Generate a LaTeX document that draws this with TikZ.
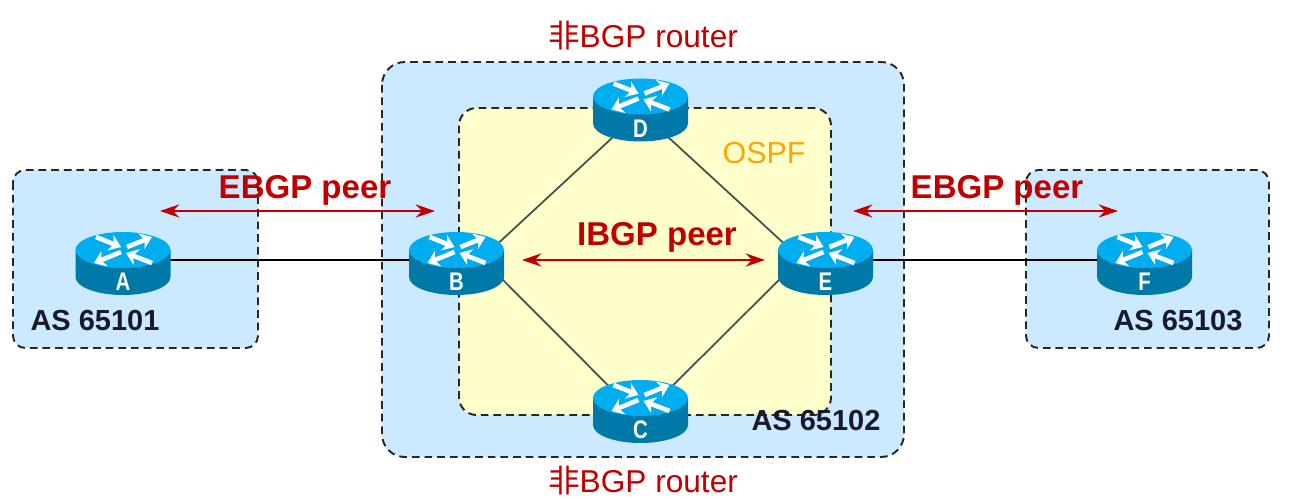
\documentclass[tikz,border=0pt]{standalone}
\usepackage{fontspec}
\setmainfont{Liberation Sans}
\newfontfamily\cjkfont{Noto Sans CJK SC}
\usetikzlibrary{arrows.meta}
\definecolor{asblue}{RGB}{203,234,255}
\definecolor{ospfyellow}{RGB}{255,255,204}
\definecolor{peerred}{RGB}{192,0,0}
\definecolor{astext}{RGB}{25,25,45}
\definecolor{ospforange}{RGB}{255,165,0}
\definecolor{routertop}{RGB}{0,174,239}
\definecolor{routerside}{RGB}{0,120,168}
\tikzset{
  region/.style={draw=black!85,line width=1.1pt,dash pattern=on 4.4pt off 2.8pt},
  routerbox/.style={minimum width=1.4cm,minimum height=0.8cm,inner sep=0pt},
  routertext/.style={text=white,inner sep=0pt,transform shape,xscale=0.8,font=\fontsize{14.5}{16}\selectfont\bfseries},
  routerarrow/.style={white,line width=2.6pt,-{Stealth[length=6.5pt,width=9.5pt]}},
  link/.style={black!70,line width=1pt},
  peer/.style={peerred,line width=1.3pt,{Stealth[length=11pt,width=7.5pt]}-{Stealth[length=11pt,width=7.5pt]}},
  peertext/.style={text=peerred,inner sep=0pt,font=\fontsize{18.8}{20}\selectfont\bfseries},
  astag/.style={text=astext,inner sep=0pt,font=\fontsize{16.5}{18}\selectfont\bfseries},
  nonbgp/.style={text=peerred,inner sep=0pt,font=\fontsize{18}{20}\selectfont},
}
% name, top x, top y, letter
\newcommand{\router}[4]{
  \begin{scope}[shift={(#2,#3)}]
    \fill[routerside] (-47.5,0) -- (-47.5,27) arc[start angle=180,end angle=0,x radius=47.5,y radius=18] -- (47.5,0) -- cycle;
    \fill[routertop] (0,0) ellipse[x radius=47.5,y radius=18];
    \draw[routerarrow] (-27,-13) -- (-2,-3);
    \draw[routerarrow] (4,-3) -- (29,-13);
    \draw[routerarrow] (-2,2) -- (-29,13);
    \draw[routerarrow] (29,13) -- (3,3);
    \node[routertext] (#1label) at (0,32) {#4};
  \end{scope}
}
\begin{document}
\begin{tikzpicture}[x=0.02cm,y=-0.02cm]
  \useasboundingbox (0,0) rectangle (1294,499);
  % AS areas
  \draw[region,fill=asblue,rounded corners=7pt] (13,170) rectangle (258,348);
  \draw[region,fill=asblue,rounded corners=7pt] (1026,170) rectangle (1269,348);
  \draw[region,fill=asblue,rounded corners=13pt] (382,62) rectangle (904,457);
  \draw[region,fill=ospfyellow,rounded corners=10pt] (459,108) rectangle (831,415);
  % anchors of the routers
  \node[routerbox] (A) at (123,260) {};
  \node[routerbox] (B) at (456.5,260) {};
  \node[routerbox] (C) at (640.5,408) {};
  \node[routerbox] (D) at (640.5,106.5) {};
  \node[routerbox] (E) at (825.5,260) {};
  \node[routerbox] (F) at (1144.5,260) {};
  % links
  \draw[link,black] (A.east) -- (B.west);
  \draw[link,black] (E.east) -- (F.west);
  \draw[link] (B.17) -- (D.231);
  \draw[link] (D.309) -- (E.163);
  \draw[link] (B.-14) -- (C.146);
  \draw[link] (C.34) -- (E.194);
  % routers
  \router{ra}{123}{250}{A}
  \router{rb}{456.5}{250}{B}
  \router{rc}{640.5}{398}{C}
  \router{rd}{640.5}{96.5}{D}
  \router{re}{825.5}{250}{E}
  \router{rf}{1144.5}{250}{F}
  % peers
  \coordinate (ebgpAl) at (160,211);
  \coordinate (ebgpAr) at (435,211);
  \coordinate (ebgpFl) at (853,211);
  \coordinate (ebgpFr) at (1118,211);
  \coordinate (ibgpl) at (522,260);
  \coordinate (ibgpr) at (765,260);
  \draw[peer] (ebgpAl) -- (ebgpAr);
  \draw[peer] (ebgpFl) -- (ebgpFr);
  \draw[peer] (ibgpl) -- (ibgpr);
  \node[peertext] (ebgpA) at (305,190) {EBGP peer};
  \node[peertext] (ebgpF) at (997,190) {EBGP peer};
  \node[peertext] (ibgp) at (657,237) {IBGP peer};
  % labels
  \node[astag] (as1) at (95,321) {AS 65101};
  \node[astag] (as2) at (816,421) {AS 65102};
  \node[astag] (as3) at (1178,321) {AS 65103};
  \node[nonbgp] (top) at (643,36) {{\cjkfont 非}BGP router};
  \node[nonbgp] (bottom) at (643,481) {{\cjkfont 非}BGP router};
  \node[inner sep=0pt,text=ospforange,font=\fontsize{17.3}{19}\selectfont] (ospf) at (764,153) {OSPF};
\end{tikzpicture}
\end{document}
